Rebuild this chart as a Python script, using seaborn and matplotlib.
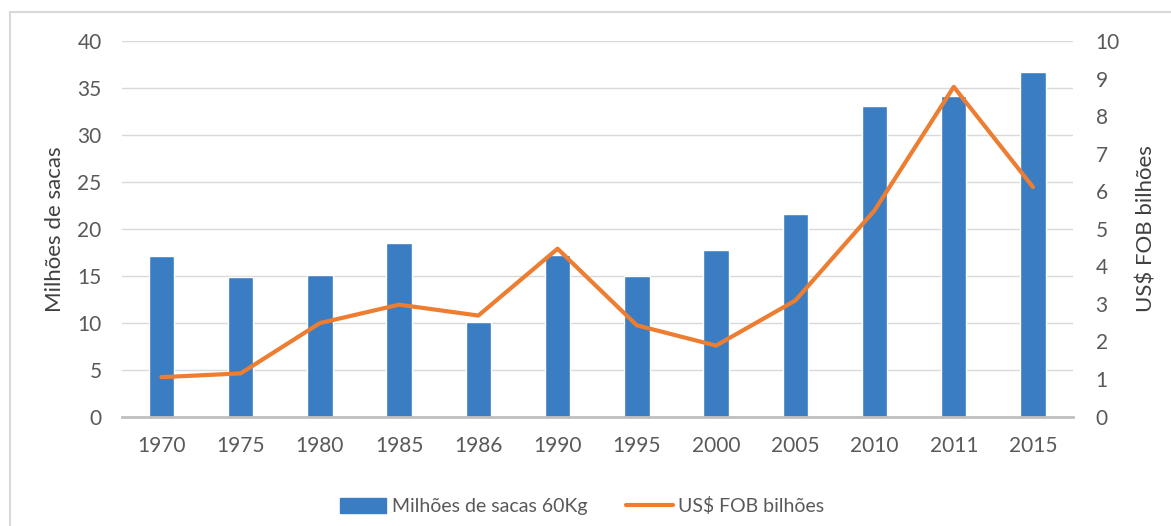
import numpy as np
import matplotlib
matplotlib.use("Agg")
import matplotlib.pyplot as plt
import seaborn as sns
from matplotlib.patches import Rectangle
from matplotlib.lines import Line2D

# Data
anos = ["1970", "1975", "1980", "1985", "1986", "1990", "1995",
        "2000", "2005", "2010", "2011", "2015"]
sacas = [17.1, 14.9, 15.1, 18.5, 10.1, 17.2, 15.0, 17.7, 21.6, 33.1, 34.1, 36.7]
usd_fob = [1.05, 1.15, 2.49, 2.98, 2.69, 4.47, 2.43, 1.89, 3.09, 5.49, 8.78, 6.11]

blue = "#3A7DC3"
orange = "#ED7D31"
gray_txt = "#595959"

sns.set_theme(style="white")
plt.rcParams["font.family"] = ["Lato", "DejaVu Sans"]

fig = plt.figure(figsize=(11.71, 5.26), dpi=100)
ax = fig.add_axes([0.104, 0.208, 0.812, 0.714])

sns.barplot(x=anos, y=sacas, color=blue, width=0.32, saturation=1, ax=ax)
ax.set_ylim(0, 40)
ax.set_yticks(np.arange(0, 41, 5))
ax.set_xlim(-0.5, len(anos) - 0.5)
ax.grid(axis="y", color="#D9D9D9", linewidth=1)
ax.set_axisbelow(True)
for s in ["top", "right", "left"]:
    ax.spines[s].set_visible(False)
ax.spines["bottom"].set_color("#BFBFBF")
ax.spines["bottom"].set_linewidth(2)
ax.tick_params(axis="both", length=0, colors=gray_txt, labelsize=15)
ax.tick_params(axis="y", pad=14.5)
ax.tick_params(axis="x", pad=14)
ax.set_xlabel("")
ax.set_ylabel("Milhões de sacas", fontsize=16, color="#404040", labelpad=9)

ax2 = ax.twinx()
sns.lineplot(x=np.arange(len(anos)), y=usd_fob, color=orange, linewidth=3,
             ax=ax2)
ax2.set_ylim(0, 10)
ax2.set_yticks(np.arange(0, 11, 1))
for s in ax2.spines.values():
    s.set_visible(False)
ax2.tick_params(axis="y", length=0, colors=gray_txt, labelsize=15, pad=16.5)
ax2.set_ylabel("US$ FOB bilhões", fontsize=16, color="#404040", labelpad=12)

handles = [Rectangle((0, 0), 1, 1, color=blue),
           Line2D([0], [0], color=orange, linewidth=3)]
fig.legend(handles, ["Milhões de sacas 60Kg", "US$ FOB bilhões"],
           loc="center", bbox_to_anchor=(0.497, 0.038), ncol=2, frameon=False,
           fontsize=14, labelcolor=gray_txt, handlelength=2.4,
           handleheight=0.82, handletextpad=0.27, columnspacing=2.0)

# light frame around the chart area
fig.patches.append(Rectangle((10 / 1171, -0.05), 1.1, 1 - 12 / 526 + 0.05,
                             transform=fig.transFigure, fill=False,
                             edgecolor="#D9D9D9", linewidth=1.5))

fig.savefig("out.png", dpi=100)
